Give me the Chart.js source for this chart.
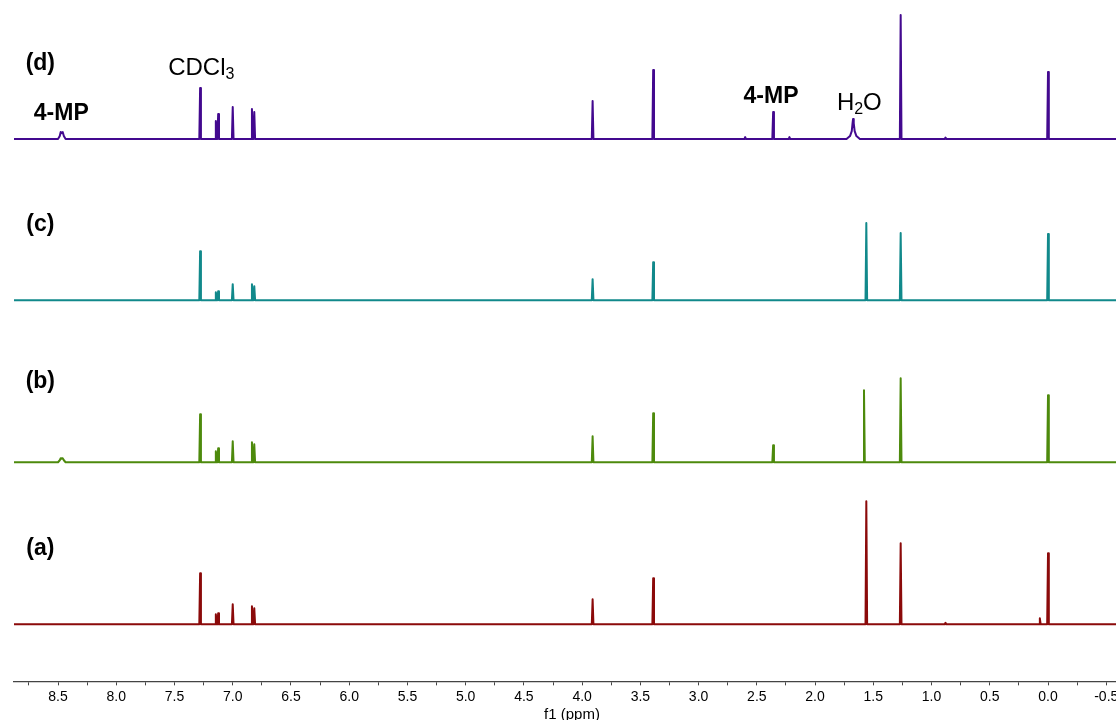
<!DOCTYPE html>
<html>
<head>
<meta charset="utf-8">
<script src="https://cdn.jsdelivr.net/npm/chart.js@4"></script>
<style>
  html, body { margin: 0; padding: 0; background: #fff; overflow: hidden; }
  #wrap { width: 1130px; height: 720px; }
</style>
</head>
<body>
<div id="wrap"><canvas id="nmrChart" width="1130" height="720"></canvas></div>
<script>
// peak lists (ppm, intensity)
const ppmA = [7.28, 7.145, 7.125, 7.00, 6.835, 6.815, 3.91, 3.39, 1.56, 1.265, 0.88, 0.07, 0.0];
const intA = [51, 10, 11, 20, 18, 16, 25, 46, 123, 81, 1.5, 6, 71];

const ppmB = [7.28, 7.145, 7.125, 7.00, 6.835, 6.815, 3.91, 3.39, 2.36, 1.58, 1.265, 0.0];
const intB = [48, 11, 14, 21, 20, 18, 26, 49, 17, 72, 84, 67];

const ppmC = [7.28, 7.145, 7.125, 7.00, 6.835, 6.815, 3.91, 3.39, 1.56, 1.265, 0.0];
const intC = [49, 8, 9, 16, 16, 14, 21, 38, 77, 67, 66];

const ppmD = [7.28, 7.145, 7.125, 7.00, 6.835, 6.815, 3.91, 3.39, 2.60, 2.36, 2.22, 1.265, 0.88, 0.0];
const intD = [51, 18, 25, 32, 30, 27, 38, 69, 2, 27, 2, 124, 1.5, 67];

// broad signals traced point by point
const mpPpmB = [8.50, 8.485, 8.477, 8.468, 8.46, 8.45, 8.435];
const mpIntB = [0, 2, 4, 3.5, 4, 2, 0];
const mpPpmD = [8.50, 8.485, 8.477, 8.468, 8.46, 8.45, 8.435];
const mpIntD = [0, 3, 7, 6, 7, 3, 0];
const waterPpmD = [1.73, 1.70, 1.685, 1.678, 1.674, 1.668, 1.66, 1.645, 1.615];
const waterIntD = [0, 3, 8, 16, 20, 16, 8, 3, 0];

const tickLabels = ["8.5", "8.0", "7.5", "7.0", "6.5", "6.0", "5.5", "5.0", "4.5", "4.0",
                    "3.5", "3.0", "2.5", "2.0", "1.5", "1.0", "0.5", "0.0", "-0.5"];

const traceNames = ["(a)", "(b)", "(c)", "(d)"];
const traceColors = ["#8b0a0a", "#4d8a0c", "#11898b", "#43098f"];

// layout
const X_LEFT = 8.878, X_RIGHT = -0.704;
const AREA_H = 681;
const baselinePx = [624, 462, 300, 139];
const HALF_W = 0.007;

function buildTrace(ppm, ints, extras) {
    const pts = [{ x: X_LEFT, y: 0 }, { x: X_RIGHT, y: 0 }];
    ppm.forEach((p, i) => {
        pts.push({ x: p + HALF_W, y: 0 }, { x: p, y: ints[i] }, { x: p - HALF_W, y: 0 });
    });
    (extras || []).forEach(([ep, ei]) => ep.forEach((p, i) => pts.push({ x: p, y: ei[i] })));
    pts.sort((a, b) => b.x - a.x);
    return pts;
}

const traces = [
    buildTrace(ppmA, intA),
    buildTrace(ppmB, intB, [[mpPpmB, mpIntB]]),
    buildTrace(ppmC, intC),
    buildTrace(ppmD, intD, [[mpPpmD, mpIntD], [waterPpmD, waterIntD]]),
];

const axisIds = ["yA", "yB", "yC", "yD"];

// text labels placed on the trace axes
const notes = [
    { parts: [["(d)", 0]], ppm: 8.652, y: 75, trace: 3, bold: true },
    { parts: [["(c)", 0]], ppm: 8.652, y: 75, trace: 2, bold: true },
    { parts: [["(b)", 0]], ppm: 8.652, y: 81, trace: 1, bold: true },
    { parts: [["(a)", 0]], ppm: 8.652, y: 76, trace: 0, bold: true },
    { parts: [["4-MP", 0]], ppm: 8.472, y: 25, trace: 3, bold: true },
    { parts: [["4-MP", 0]], ppm: 2.378, y: 42, trace: 3, bold: true },
    { parts: [["CDCl", 0], ["3", 1]], ppm: 7.27, y: 71, trace: 3, bold: false },
    { parts: [["H", 0], ["2", 1], ["O", 0]], ppm: 1.62, y: 36, trace: 3, bold: false },
];

const notePlugin = {
    id: "notes",
    afterDatasetsDraw(chart) {
        const ctx = chart.ctx;
        const xs = chart.scales.x;
        ctx.save();
        ctx.fillStyle = "#000";
        ctx.textBaseline = "middle";
        ctx.textAlign = "left";
        notes.forEach(n => {
            const ys = chart.scales[axisIds[n.trace]];
            const cx = xs.getPixelForValue(n.ppm);
            const cy = ys.getPixelForValue(n.y);
            const size = n.bold ? 23 : 24;
            const main = (n.bold ? "bold " : "") + size + "px 'Liberation Sans', Arial, sans-serif";
            const small = (n.bold ? "bold " : "") + Math.round(size * 0.68) + "px 'Liberation Sans', Arial, sans-serif";
            let w = 0;
            n.parts.forEach(([t, sub]) => { ctx.font = sub ? small : main; w += ctx.measureText(t).width; });
            let x = cx - w / 2;
            n.parts.forEach(([t, sub]) => {
                ctx.font = sub ? small : main;
                ctx.fillText(t, x, sub ? cy + 7 : cy);
                x += ctx.measureText(t).width;
            });
        });
        ctx.restore();
    }
};

const scales = {
    x: {
        type: "linear",
        reverse: true,
        min: X_RIGHT,
        max: X_LEFT,
        afterBuildTicks(scale) {
            const t = [];
            for (let v = 8.75; v >= -0.5; v -= 0.25) t.push({ value: Math.round(v * 100) / 100 });
            scale.ticks = t;
        },
        ticks: {
            autoSkip: false,
            maxRotation: 0,
            padding: 4,
            color: "#000",
            font: { family: "'Liberation Sans', Arial, sans-serif", size: 14, lineHeight: 1.1 },
            callback(value) {
                const s = value.toFixed(1);
                return tickLabels.includes(s) && Math.abs(value * 2 - Math.round(value * 2)) < 1e-6 ? s : "";
            },
        },
        grid: {
            display: true,
            drawOnChartArea: false,
            drawTicks: true,
            tickLength: 4,
            color: "#444",
        },
        border: { display: true, color: "#444", width: 1.3 },
        title: {
            display: true,
            text: "f1 (ppm)",
            color: "#000",
            font: { family: "'Liberation Sans', Arial, sans-serif", size: 15, lineHeight: 0.75 },
            padding: { top: 0, bottom: 0 },
        },
    },
};
axisIds.forEach((id, i) => {
    scales[id] = {
        type: "linear",
        display: false,
        min: -(AREA_H - baselinePx[i]),
        max: baselinePx[i],
    };
});

new Chart(document.getElementById("nmrChart").getContext("2d"), {
    type: "line",
    data: {
        datasets: traces.map((pts, i) => ({
            label: traceNames[i],
            data: pts,
            yAxisID: axisIds[i],
            borderColor: traceColors[i],
            borderWidth: 2,
            borderJoinStyle: "round",
            pointRadius: 0,
            tension: 0,
            fill: false,
        })),
    },
    options: {
        responsive: false,
        animation: false,
        layout: { padding: { top: 0, left: 14, right: 0, bottom: 0 } },
        plugins: {
            legend: { display: false },
            tooltip: { enabled: false },
        },
        scales: scales,
    },
    plugins: [notePlugin],
});
</script>
</body>
</html>
